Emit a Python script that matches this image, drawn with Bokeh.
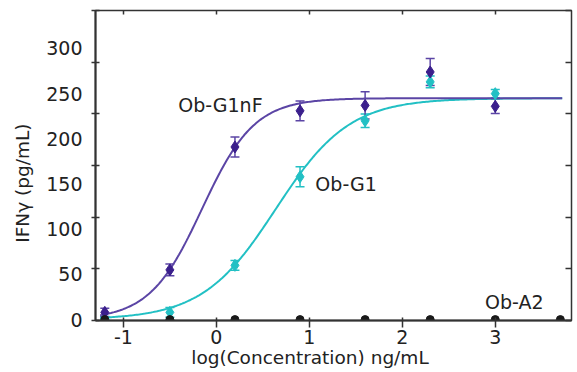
import numpy as np
from bokeh.plotting import figure
from bokeh.models import Range1d, LinearAxis, FixedTicker, Whisker, TeeHead, ColumnDataSource
from bokeh.core.properties import value
from bokeh.embed import file_html
from bokeh.resources import INLINE

# ---- data ----
log_conc = [-1.2, -0.5, 0.2, 0.9, 1.6, 2.3, 3.0]
a2_conc = [-1.2, -0.5, 0.2, 0.9, 1.6, 2.3, 3.0, 3.7]

g1nf_mean = [8, 55, 191, 231, 237, 274, 236]
g1nf_err = [4.5, 6.5, 11, 11, 15, 15, 8]

g1_mean = [1, 8, 60, 158, 220, 263, 250]
g1_err = [2, 5.5, 5.5, 11, 7.5, 6.5, 4.5]

a2_mean = [0, 0, 0, 0, 0, 0, 0, 0]

# four-parameter logistic fits (bottom, top, logEC50, hill)
g1nf_fit = (0, 245, -0.154, 1.54)
g1_fit = (0, 245, 0.64, 1.10)
fit_range = (-1.25, 3.72)

x_ticks = [-1, 0, 1, 2, 3]
x_tick_labels = ["-1", "0", "1", "2", "3"]
y_ticks = [0, 50, 100, 150, 200, 250, 300]

series_names = ["Ob-G1nF", "Ob-G1", "Ob-A2"]
name_x = [-0.41, 1.065, 2.89]
name_y = [237.5, 150.5, 19]

PURPLE_M = "#3b1f8c"
PURPLE_L = "#5b45a5"
CYAN = "#22c0c4"
BLACK = "#1a1a1a"
AX = "#333333"
TXT = "#222222"
FONT = "DejaVu Sans"


def four_pl(x, p):
    b, t, c, h = p
    return b + (t - b) / (1 + 10 ** ((c - x) * h))


x0, x1 = -1.30, 3.82
y0, y1 = -1, 342

p = figure(width=577, height=372, x_range=Range1d(x0, x1), y_range=Range1d(y0, y1),
           output_backend="svg", toolbar_location=None,
           min_border_left=95, min_border_right=6, min_border_top=10, min_border_bottom=52)
p.xgrid.visible = False
p.ygrid.visible = False
p.outline_line_color = AX
p.outline_line_width = 1.5
p.background_fill_color = "white"
p.border_fill_color = "white"

# tick-mark positions divide the frame into six equal parts
tick_marks = [y0 + i * (y1 - y0) / 6 for i in range(7)]
yticker = FixedTicker(ticks=y_ticks, minor_ticks=tick_marks)

NB = "\u00a0"
xa = p.xaxis[0]
xa.ticker = FixedTicker(ticks=x_ticks)
xa.major_label_overrides = {t: s for t, s in zip(x_ticks, x_tick_labels)}
xa.axis_label = "log(Concentration) ng/mL" + NB * 8
ya = p.yaxis[0]
ya.ticker = yticker
ya.axis_label = "IFNγ (pg/mL)" + NB * 6

for ax in (xa, ya):
    ax.axis_line_color = AX
    ax.axis_line_width = 2
    ax.major_label_text_font = FONT
    ax.major_label_text_font_size = "19px"
    ax.major_label_text_color = TXT
    ax.axis_label_text_font = FONT
    ax.axis_label_text_font_size = "18.5px"
    ax.axis_label_text_font_style = "normal"
    ax.axis_label_text_color = TXT
    ax.major_tick_line_color = AX
    ax.major_tick_line_width = 1.5
    ax.minor_tick_line_color = AX
    ax.minor_tick_line_width = 1.5

xa.major_tick_in = 3
xa.major_tick_out = 7
xa.major_label_standoff = 2
xa.axis_label_standoff = 0
ya.major_tick_line_color = None
ya.major_tick_out = 4
ya.major_tick_in = 0
ya.minor_tick_in = 4
ya.minor_tick_out = 4
ya.major_label_standoff = 9
ya.axis_label_standoff = 10

top = LinearAxis(ticker=FixedTicker(ticks=x_ticks), major_label_text_font_size="1px",
                 major_label_text_color=None, major_label_standoff=0, axis_line_color=None,
                 major_tick_in=4, major_tick_out=0,
                 major_tick_line_color=AX, major_tick_line_width=1.5)
p.add_layout(top, "above")
right = LinearAxis(ticker=FixedTicker(ticks=[], minor_ticks=tick_marks), major_label_text_font_size="1px",
                   major_label_text_color=None, major_label_standoff=0, axis_line_color=None,
                   major_tick_out=0, minor_tick_in=6, minor_tick_out=0,
                   minor_tick_line_color=AX, minor_tick_line_width=1.5, major_tick_line_color=None)
p.add_layout(right, "right")

# fitted curves
xf = np.linspace(fit_range[0], fit_range[1], 300)
p.line(xf, four_pl(xf, g1_fit), line_color=CYAN, line_width=2)
p.line(xf, four_pl(xf, g1nf_fit), line_color=PURPLE_L, line_width=2)

# error bars and markers
for mean, err, col_bar, col_m in ((g1_mean, g1_err, CYAN, CYAN), (g1nf_mean, g1nf_err, PURPLE_L, PURPLE_M)):
    src = ColumnDataSource(dict(x=log_conc, y=mean,
                                lo=[m - e for m, e in zip(mean, err)],
                                hi=[m + e for m, e in zip(mean, err)]))
    w = Whisker(source=src, base="x", lower="lo", upper="hi", line_color=col_bar, line_width=1.5,
                upper_head=TeeHead(size=9, line_color=col_bar, line_width=1.5),
                lower_head=TeeHead(size=9, line_color=col_bar, line_width=1.5))
    p.add_layout(w)
    p.scatter("x", "y", source=src, marker="diamond", size=12, fill_color=col_m, line_color=col_m)

p.scatter(a2_conc, a2_mean, marker="circle", size=8, fill_color=BLACK, line_color=BLACK)

p.text(name_x, name_y, text=series_names, text_font=value(FONT), text_font_size="19px",
       text_color=TXT, text_align="left", text_baseline="middle")

open("out.html", "w").write(file_html(p, INLINE))
